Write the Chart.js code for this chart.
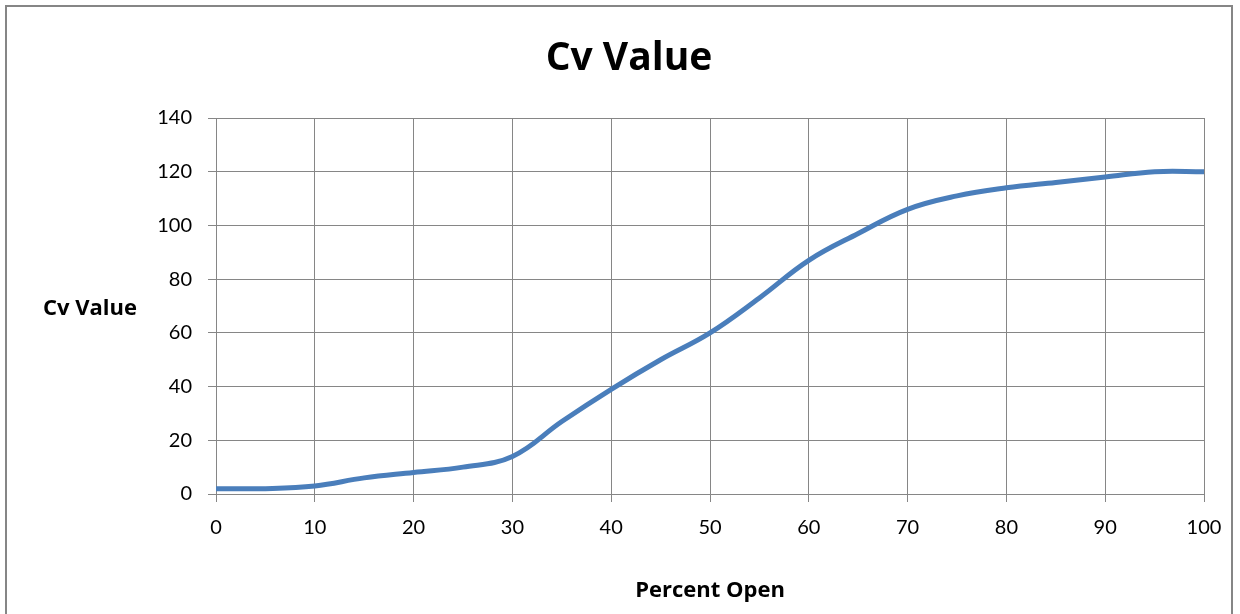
<!DOCTYPE html>
<html>
<head>
<meta charset="utf-8">
<title>Cv Value</title>
<script src="https://cdn.jsdelivr.net/npm/chart.js@4/dist/chart.umd.min.js"></script>
<style>
  html, body { margin: 0; padding: 0; background: #fff; }
  #wrap { width: 1240px; height: 614px; }
</style>
</head>
<body>
<div id="wrap"><canvas id="chart" width="1240" height="614"></canvas></div>
<script>
var percentOpen = [0, 5, 10, 15, 20, 25, 30, 35, 40, 45, 50, 55, 60, 65, 70, 75, 80, 85, 90, 95, 100];
var cvValues = [2, 2, 3, 6, 8, 10, 14, 27, 39, 50, 60, 73, 87, 97, 106, 111, 114, 116, 118, 120, 120];
var xTicks = [0, 10, 20, 30, 40, 50, 60, 70, 80, 90, 100];
var yTicks = [0, 20, 40, 60, 80, 100, 120, 140];

var FONT = "Lato, 'Open Sans', sans-serif";
var BOLD = "'Open Sans', Lato, sans-serif";
var GRID = "#868686";

var points = percentOpen.map(function (x, i) {
  return { x: x, y: cvValues[i] };
});

// frame, chart title and the horizontal y axis title
var extras = {
  id: "extras",
  beforeDraw: function (chart) {
    var ctx = chart.ctx;
    ctx.save();
    ctx.fillStyle = "#fff";
    ctx.fillRect(0, 0, chart.width, chart.height);
    ctx.strokeStyle = GRID;
    ctx.lineWidth = 2;
    ctx.strokeRect(6, 6, 1226, 700);
    ctx.restore();
  },
  afterDraw: function (chart) {
    var ctx = chart.ctx;
    ctx.save();
    ctx.fillStyle = "#000";
    ctx.textAlign = "center";
    ctx.textBaseline = "alphabetic";
    ctx.font = "bold 39px " + BOLD;
    ctx.fillText("Cv Value", 629, 70);
    ctx.font = "bold 22px " + BOLD;
    ctx.fillText("Cv Value", 90, 315);
    ctx.restore();
  }
};

new Chart(document.getElementById("chart"), {
  type: "line",
  data: {
    datasets: [{
      label: "Cv Value",
      data: points,
      borderColor: "#4a7ebb",
      borderWidth: 5,
      pointRadius: 0,
      tension: 0.4,
      fill: false
    }]
  },
  options: {
    responsive: false,
    animation: false,
    layout: { padding: { left: 0, right: 36, top: 118, bottom: 0 } },
    plugins: {
      legend: { display: false },
      tooltip: { enabled: false },
      title: { display: false }
    },
    scales: {
      x: {
        type: "linear",
        min: 0,
        max: 100,
        afterBuildTicks: function (s) {
          s.ticks = xTicks.map(function (v) { return { value: v }; });
        },
        afterFit: function (s) { s.height = 120; },
        grid: { color: GRID, lineWidth: 1, tickLength: 8 },
        border: { color: GRID, width: 1 },
        ticks: {
          color: "#000",
          font: { family: FONT, size: 20 },
          padding: 14,
          maxRotation: 0
        },
        title: {
          display: true,
          text: "Percent Open",
          color: "#000",
          font: { family: BOLD, size: 22, weight: "bold" },
          padding: { top: 0, bottom: 10 }
        }
      },
      y: {
        type: "linear",
        min: 0,
        max: 140,
        afterBuildTicks: function (s) {
          s.ticks = yTicks.map(function (v) { return { value: v }; });
        },
        afterFit: function (s) { s.width = 216; },
        grid: { color: GRID, lineWidth: 1, tickLength: 8 },
        border: { color: GRID, width: 1 },
        ticks: {
          color: "#000",
          font: { family: FONT, size: 20 },
          padding: 16
        }
      }
    }
  },
  plugins: [extras]
});
</script>
</body>
</html>
